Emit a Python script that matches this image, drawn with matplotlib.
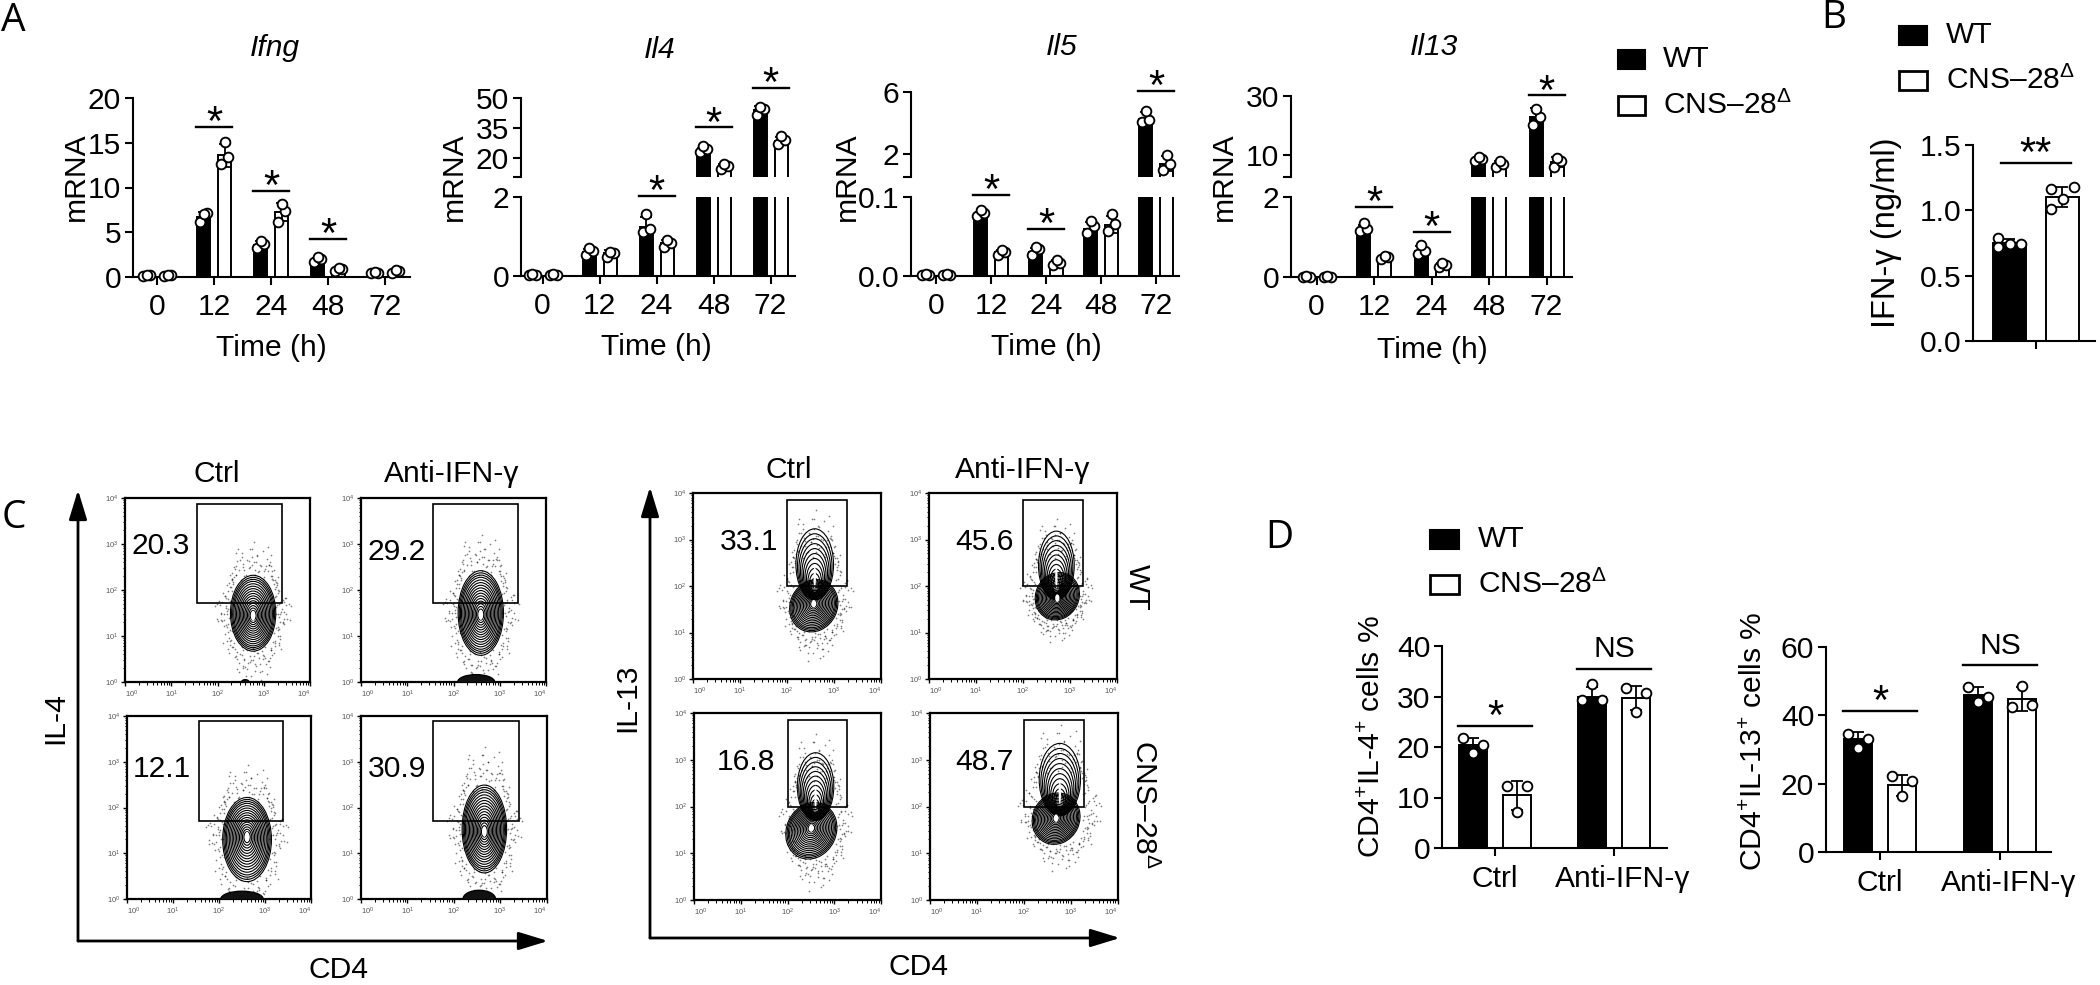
import numpy as np
import matplotlib
matplotlib.use("Agg")
import matplotlib.pyplot as plt
from matplotlib.patches import Ellipse, FancyArrowPatch, Rectangle
from matplotlib.ticker import FixedLocator, NullFormatter
from matplotlib.transforms import ScaledTranslation

plt.rcParams['font.family'] = ['Liberation Sans', 'DejaVu Sans']
plt.rcParams['mathtext.fontset'] = 'custom'
plt.rcParams['mathtext.rm'] = 'Liberation Sans'
plt.rcParams['mathtext.it'] = 'Liberation Sans:italic'
plt.rcParams['mathtext.default'] = 'regular'

W, H = 2100, 985
FS = 21.6
CNS_LABEL = 'CNS\u201328$^{\\Delta}$'

# Panel A
times = ['0', '12', '24', '48', '72']

ifng_wt = [0.2, 6.7, 3.6, 1.9, 0.5]
ifng_cns = [0.2, 13.6, 7.3, 0.9, 0.65]
ifng_wt_pts = [[0.1, 0.2, 0.2], [6.1, 7.2, 7.0], [3.2, 3.7, 4.0], [1.7, 2.0, 2.2], [0.4, 0.5, 0.6]]
ifng_cns_pts = [[0.1, 0.2, 0.2], [12.6, 13.4, 15.1], [6.2, 7.4, 8.2], [0.7, 0.9, 1.0], [0.5, 0.7, 0.75]]
ifng_sig = [(1, 16.8, 0), (2, 9.6, 0), (3, 4.25, 0)]

il4_wt = [0.03, 0.6, 1.25, 23.5, 44]
il4_cns = [0.03, 0.58, 0.83, 15.7, 28.5]
il4_wt_pts = [[0.02, 0.03, 0.04], [0.53, 0.63, 0.7], [1.12, 1.18, 1.58], [22.8, 24.5, 25.8], [41.6, 44.7, 45.5]]
il4_cns_pts = [[0.02, 0.03, 0.04], [0.47, 0.57, 0.61], [0.73, 0.84, 0.9], [14.5, 15.8, 17], [27, 29, 31]]
il4_sig = [(2, 2.03, 0), (3, 35.4, 1), (4, 55, 1)]

il5_wt = [0.001, 0.078, 0.03, 0.06, 4.3]
il5_cns = [0.001, 0.03, 0.017, 0.065, 1.4]
il5_wt_pts = [[0.001, 0.001, 0.002], [0.076, 0.08, 0.083], [0.027, 0.034, 0.037], [0.054, 0.063, 0.07], [4.07, 4.2, 4.8]]
il5_cns_pts = [[0.001, 0.001, 0.002], [0.027, 0.03, 0.033], [0.014, 0.017, 0.02], [0.057, 0.066, 0.079], [0.97, 1.4, 1.94]]
il5_sig = [(1, 0.103, 0), (2, 0.06, 0), (4, 6.06, 1)]

il13_wt = [0.01, 1.2, 0.65, 8.5, 23]
il13_cns = [0.01, 0.48, 0.3, 6.9, 7.5]
il13_wt_pts = [[0.0, 0.01, 0.02], [1.14, 1.21, 1.34], [0.57, 0.64, 0.8], [7.7, 8.5, 9.2], [20, 22.8, 25.7]]
il13_cns_pts = [[0.0, 0.01, 0.02], [0.45, 0.49, 0.53], [0.24, 0.3, 0.35], [5.7, 6.8, 7.7], [5.7, 8, 9]]
il13_sig = [(1, 1.76, 0), (2, 1.13, 0), (4, 30.2, 1)]

# Panel B
ifn_wt = [0.75]
ifn_cns = [1.1]
ifn_wt_pts = [[0.79, 0.72, 0.74, 0.74]]
ifn_cns_pts = [[1.16, 1.01, 1.09, 1.18]]

# Panel D
treatments = ['Ctrl', 'Anti-IFN-\u03b3']
il4_pct_wt = [20.3, 30]
il4_pct_cns = [10.4, 29.7]
il4_pct_wt_pts = [[21.7, 20.4, 18.75], [29.3, 29.3, 32.4]]
il4_pct_cns_pts = [[12.2, 12.2, 7.2], [31.6, 30.7, 27]]
il13_pct_wt = [33, 46]
il13_pct_cns = [19.5, 44.7]
il13_pct_wt_pts = [[34.5, 33, 30.4], [48.4, 45.4, 43.9]]
il13_pct_cns_pts = [[22.2, 20.7, 16.3], [42.4, 42.9, 48.7]]

# Panel C, all positions in decades of the flow axes
il4_freq = ['20.3', '29.2', '12.1', '30.9']
il13_freq = ['33.1', '45.6', '16.8', '48.7']
# core x, core y, half width, top, bottom
il4_contours = [(2.77, 1.44, 0.49, 2.32, 0.67), (2.59, 1.46, 0.49, 2.42, 0.58),
                (2.61, 1.36, 0.53, 2.22, 0.38), (2.66, 1.47, 0.48, 2.49, 0.57)]
# centre x, half width, top
il4_blobs = [(2.6, 0.08, 0.05), (2.49, 0.40, 0.16), (2.5, 0.46, 0.17), (2.55, 0.35, 0.19)]
il13_blobs_low = [(2.57, 1.62, 0.50, 2.15, 1.0), (2.73, 1.74, 0.46, 2.3, 1.26),
                  (2.51, 1.54, 0.53, 2.1, 0.86), (2.69, 1.75, 0.50, 2.3, 1.18)]
il13_tails = [(2.59, 1.9, 0.40, 3.23), (2.71, 1.9, 0.38, 3.18),
              (2.6, 1.9, 0.39, 3.15), (2.77, 2.0, 0.44, 3.35)]
il4_gate = (1.56, 3.40, 1.71, 3.88)
il13_gate = (2.0, 3.28, 2.0, 3.84)
ring_scales = [1, .95, .90, .85, .79, .73, .67, .61, .55, .49, .43, .37, .31, .25, .19, .13]
tail_scales = [1, .92, .84, .76, .68, .60, .52, .44, .36, .28, .20]
# speckle around a population, in units of its outline
speckle = [(1.15, 0.3), (-1.2, 0.2), (1.3, -0.2), (-1.3, -0.3), (0.9, 1.12), (-0.8, 1.15), (0.3, 1.25),
           (-0.2, 1.35), (0.6, 1.4), (-0.5, 1.45), (1.05, 0.75), (-1.05, 0.8), (1.2, -0.65), (-1.15, -0.7),
           (0.85, -1.1), (-0.75, -1.15), (0.25, -1.2), (-0.15, -1.3), (0.55, -1.35), (-0.45, -1.42),
           (0.1, -1.55), (-0.3, -1.7), (0.35, -1.8), (1.35, 0.1), (-1.4, 0.05), (1.45, 0.45), (-1.35, 0.55),
           (1.1, 0.95), (-1.0, 1.0), (0.15, 1.5), (-0.05, 1.65), (1.25, -0.95), (-1.1, -0.95), (0.7, 1.25),
           (1.08, 0.05), (-1.08, -0.05), (1.12, 0.55), (-1.12, 0.42), (1.1, -0.4), (-1.1, -0.45),
           (0.98, 0.88), (-0.95, 0.9), (0.95, -0.85), (-0.92, -0.88), (0.5, 1.1), (-0.42, 1.12),
           (0.45, -1.12), (-0.5, -1.1), (0.08, 1.14), (0.02, -1.14), (1.5, -0.1), (-1.55, -0.15),
           (0.75, -1.45), (-0.7, -1.5), (0.8, 1.5), (-0.75, 1.55), (1.6, 0.3), (-1.6, 0.3)]


def axes_px(left, top, right, bottom):
    ax = fig.add_axes([left / W, 1 - bottom / H, (right - left) / W, (bottom - top) / H])
    ax.patch.set_alpha(0)
    return ax


def style_axes(ax, xlim):
    ax.set_xlim(*xlim)
    for side in ['top', 'right']:
        ax.spines[side].set_visible(False)
    for side in ['left', 'bottom']:
        ax.spines[side].set_linewidth(1.5)
    ax.tick_params(width=1.5, length=5.5, labelsize=FS, pad=3)
    ax.tick_params(axis='x', pad=6)


def draw_bars(axs, wt, cns, wt_pts, cns_pts, off, width, jit):
    # each axes draws what falls inside its own y range
    for ax in axs:
        low, high = ax.get_ylim()
        for vals, pts, sign, face in [(wt, wt_pts, -1, 'black'), (cns, cns_pts, 1, 'white')]:
            x = np.arange(len(vals)) + sign * off
            ax.bar(x, vals, width=width, color=face, edgecolor='black', linewidth=1.4, zorder=2)
            for xi, v, p in zip(x, vals, pts):
                if len(axs) > 1 and not (low <= v <= high):
                    continue
                err = np.std(p, ddof=1)
                ax.errorbar(xi, v, yerr=err, color='black', capsize=4, lw=1.3, capthick=1.3,
                            zorder=3, clip_on=False)
                ax.plot(xi + np.array(jit), p, 'o', ms=7, mfc='white', mec='black', mew=1.35,
                        zorder=4, clip_on=False)


def draw_sig(axs, sig, half, text='*', gap=-6):
    for i, y, which in sig:
        ax = axs[which]
        ax.plot([i - half, i + half], [y, y], color='black', lw=1.7, clip_on=False, zorder=5)
        ax.annotate(text, xy=(i, y), xytext=(0, gap), textcoords='offset points', ha='center',
                    va='baseline', fontsize=30, annotation_clip=False)


def mrna_panel(left, right, x0, pitch, lims, pixels, ticks, labels, wt, cns, wt_pts, cns_pts, sig):
    xlim = ((left - x0) / pitch, (right - x0) / pitch)
    if len(lims) == 1:
        ax = axes_px(left, pixels[0], right, pixels[1])
        ax.set_ylim(*lims[0])
        axs = [ax]
    else:
        low = axes_px(left, pixels[2], right, pixels[3])
        up = axes_px(left, pixels[0], right, pixels[1])
        low.set_ylim(*lims[0])
        up.set_ylim(*lims[1])
        axs = [low, up]
    for k, ax in enumerate(axs):
        style_axes(ax, xlim)
        ax.set_yticks(ticks[k])
        ax.set_yticklabels(labels[k])
    axs[0].set_xticks(range(5))
    axs[0].set_xticklabels(times)
    if len(axs) > 1:
        axs[1].spines['bottom'].set_visible(False)
        axs[1].set_xticks([])
    draw_bars(axs, wt, cns, wt_pts, cns_pts, 10.5 / pitch, 13 / pitch, [-3.5 / pitch, 3.5 / pitch, 0])
    draw_sig(axs, sig, 18 / pitch)


def pct_panel(left, right, x0, pitch, top, bottom, ymax, ticks, wt, cns, wt_pts, cns_pts, star_y, ns_y):
    ax = axes_px(left, top, right, bottom)
    ax.set_ylim(0, ymax)
    style_axes(ax, ((left - x0) / pitch, (right - x0) / pitch))
    ax.set_yticks(ticks)
    ax.set_xticks(range(2))
    ax.set_xticklabels(treatments)
    ax.tick_params(axis='x', pad=7)
    # the treatment labels sit a little right of their ticks
    anti = ax.get_xticklabels()[1]
    anti.set_transform(anti.get_transform() + ScaledTranslation(0.09, 0, fig.dpi_scale_trans))
    draw_bars([ax], wt, cns, wt_pts, cns_pts, 22 / pitch, 28.5 / pitch, [-10 / pitch, 10 / pitch, 0])
    draw_sig([ax], [(0, star_y, 0)], 37 / pitch, gap=-2)
    ax.plot([1 - 37 / pitch, 1 + 37 / pitch], [ns_y, ns_y], color='black', lw=1.7, clip_on=False)
    ax.annotate('NS', xy=(1, ns_y), xytext=(0, 14), textcoords='offset points', ha='center',
                va='center', fontsize=FS, annotation_clip=False)


def flow_panel(box, gate, freq_xy, freq):
    ax = axes_px(*box)
    ax.set_xlim(0, 4)
    ax.set_ylim(0, 4)
    minor = [d + np.log10(m) for d in range(4) for m in range(2, 10)]
    for axis in [ax.xaxis, ax.yaxis]:
        axis.set_major_locator(FixedLocator(range(5)))
        axis.set_minor_locator(FixedLocator(minor))
        axis.set_minor_formatter(NullFormatter())
    ax.set_xticklabels(['$10^{%d}$' % d for d in range(5)])
    ax.set_yticklabels(['$10^{%d}$' % d for d in range(5)])
    ax.tick_params(which='major', length=3, width=1, labelsize=5.5, labelcolor='#555555', pad=2)
    ax.tick_params(which='minor', length=1.8, width=0.7)
    for side in ax.spines.values():
        side.set_linewidth(1.6)
    tl = ax.get_xticklabels()
    tl[0].set_ha('left')
    tl[-1].set_ha('right')
    ax.add_patch(Rectangle((gate[0], gate[2]), gate[1] - gate[0], gate[3] - gate[2], fill=False,
                           edgecolor='black', lw=1.2, zorder=6))
    ov.text(*freq_xy, freq, ha='center', va='center', fontsize=FS, zorder=8)
    return ax


def contour_family(ax, cx, core, half, top, bottom, angle=0, lw=0.8, scales=ring_scales):
    for s in scales:
        y0 = core - (core - bottom) * s
        y1 = core + (top - core) * s
        ax.add_patch(Ellipse((cx, (y0 + y1) / 2), 2 * half * s, y1 - y0, angle=angle, fill=False,
                             edgecolor='black', lw=lw, zorder=3))


def specks(ax, cx, core, half, top, bottom):
    sx = []
    sy = []
    for dx, dy in speckle:
        for mx, my in [(1, 1), (-0.85, 1.1), (0.92, 0.88), (-1.05, 0.8)]:
            sx.append(cx + dx * mx * half)
            sy.append(core + dy * my * ((top - core) if dy * my > 0 else (core - bottom)))
    ax.scatter(sx, sy, s=1.5, color='black', alpha=0.5, linewidths=0, zorder=2)


def legend(x_box, y_wt, y_cns, size, x_text):
    ov.add_patch(Rectangle((x_box, y_wt - size[1] / 2), size[0], size[1], facecolor='black', edgecolor='black', lw=1.5))
    ov.add_patch(Rectangle((x_box, y_cns - size[1] / 2), size[0], size[1], facecolor='white', edgecolor='black', lw=2))
    ov.text(x_text, y_wt, 'WT', va='center', fontsize=FS)
    ov.text(x_text, y_cns, CNS_LABEL, va='center', fontsize=FS)


def arrow(x0, y0, x1, y1):
    ov.add_patch(FancyArrowPatch((x0, y0), (x1, y1), arrowstyle='-|>,head_length=18,head_width=5.5',
                                 mutation_scale=1, color='black', lw=2, shrinkA=0, shrinkB=0))


fig = plt.figure(figsize=(W / 100, H / 100), dpi=100)
ov = fig.add_axes([0, 0, 1, 1], zorder=10)
ov.set_xlim(0, W)
ov.set_ylim(H, 0)
ov.axis('off')
ov.patch.set_alpha(0)

mrna_panel(133, 410, 157, 57, [(0, 20)], (98, 277), [[0, 5, 10, 15, 20]], [['0', '5', '10', '15', '20']],
           ifng_wt, ifng_cns, ifng_wt_pts, ifng_cns_pts, ifng_sig)
mrna_panel(521, 795, 542.5, 57, [(0, 2), (10.5, 50)], (98, 177, 197, 276),
           [[0, 2], [10.5, 20, 35, 50]], [['0', '2'], ['', '20', '35', '50']],
           il4_wt, il4_cns, il4_wt_pts, il4_cns_pts, il4_sig)
mrna_panel(911, 1179, 936, 55, [(0, 0.1), (0.55, 6)], (92, 177, 197, 276),
           [[0, 0.1], [0.55, 2, 6]], [['0.0', '0.1'], ['', '2', '6']],
           il5_wt, il5_cns, il5_wt_pts, il5_cns_pts, il5_sig)
mrna_panel(1291, 1572, 1316.5, 57.5, [(0, 2), (2.4, 30)], (96, 177, 197, 277),
           [[0, 2], [2.4, 10, 30]], [['0', '2'], ['', '10', '30']],
           il13_wt, il13_cns, il13_wt_pts, il13_cns_pts, il13_sig)

for x, y, s in [(275, 48, 'Ifng'), (660, 50, 'Il4'), (1062, 47, 'Il5'), (1434, 47, 'Il13')]:
    ov.text(x, y, s, ha='center', va='center', fontsize=FS, style='italic')
for x in [76, 454, 847, 1224]:
    ov.text(x, 177, 'mRNA', ha='center', va='center', fontsize=FS, rotation=90)
for x, y in [(271, 348), (656, 347), (1046, 347), (1432, 350)]:
    ov.text(x, y, 'Time (h)', ha='center', va='center', fontsize=FS)
legend(1618, 59, 105, (27, 19), 1663)

# Panel B
ax_b = axes_px(1973, 145, 2095, 341)
ax_b.set_ylim(0, 1.5)
style_axes(ax_b, ((1973 - 2035.5) / 53, (2095 - 2035.5) / 53))
ax_b.set_yticks([0, 0.5, 1.0, 1.5])
ax_b.set_yticklabels(['0.0', '0.5', '1.0', '1.5'])
ax_b.set_xticks([0])
ax_b.set_xticklabels([''])
draw_bars([ax_b], ifn_wt, ifn_cns, ifn_wt_pts, ifn_cns_pts, 0.5, 33 / 53, [-11 / 53, -11 / 53, 1 / 53, 12 / 53])
draw_sig([ax_b], [(0, 1.36, 0)], 35 / 53, text='**', gap=-2)
ov.text(1887, 233, 'IFN-\u03b3 (ng/ml)', ha='center', va='center', fontsize=23.5, rotation=90)
legend(1899, 35, 80, (28, 19), 1946)

# Panel C
il4_boxes = [(125, 498, 310, 682), (361, 498, 546, 682), (127, 716, 311, 899), (361, 716, 546.5, 899)]
il4_freq_xy = [(161, 546), (397, 552), (162, 769), (397, 769)]
for box, xy, f, c, b in zip(il4_boxes, il4_freq_xy, il4_freq, il4_contours, il4_blobs):
    ax = flow_panel(box, il4_gate, xy, f)
    specks(ax, *c[:5])
    contour_family(ax, *c)
    ax.add_patch(Ellipse((c[0], c[1]), 0.09, 0.22, facecolor='white', edgecolor='none', zorder=4))
    ax.add_patch(Ellipse((b[0], 0), 2 * b[1], 2 * b[2], facecolor='#111111', edgecolor='black', lw=1, zorder=3))

il13_boxes = [(693, 493, 881, 679), (929, 493, 1117, 679), (694, 713, 881, 900), (930, 713, 1117.5, 900)]
il13_freq_xy = [(749, 542), (984, 542), (746, 762), (984, 762)]
for box, xy, f, c, t in zip(il13_boxes, il13_freq_xy, il13_freq, il13_blobs_low, il13_tails):
    ax = flow_panel(box, il13_gate, xy, f)
    specks(ax, t[0], c[1], t[2] * 1.2, t[3] - 0.5, c[4])
    contour_family(ax, t[0], t[1], t[2], t[3], t[1] - 0.2, scales=tail_scales)
    contour_family(ax, *c, angle=-25)
    ax.add_patch(Ellipse((t[0], t[1] + 0.3), 0.05, 0.5, facecolor='white', edgecolor='none', zorder=4))
    ax.add_patch(Ellipse((c[0], c[1]), 0.09, 0.16, facecolor='white', edgecolor='none', zorder=4))

for x, y, s in [(217, 474, 'Ctrl'), (452, 474, 'Anti-IFN-\u03b3'), (789, 470, 'Ctrl'), (1023, 470, 'Anti-IFN-\u03b3')]:
    ov.text(x, y, s, ha='center', va='center', fontsize=FS)
ov.text(55, 718, 'IL-4', ha='center', va='center', fontsize=FS, rotation=90)
ov.text(627, 698, 'IL-13', ha='center', va='center', fontsize=FS, rotation=90)
ov.text(338, 970, 'CD4', ha='center', va='center', fontsize=FS)
ov.text(918, 967, 'CD4', ha='center', va='center', fontsize=FS)
ov.text(1137, 587, 'WT', ha='center', va='center', fontsize=FS, rotation=-90)
ov.text(1144, 805, CNS_LABEL, ha='center', va='center', fontsize=FS, rotation=-90)
arrow(78, 941, 78, 490)
arrow(78, 941, 548, 941)
arrow(650, 938, 650, 487)
arrow(650, 938, 1120, 938)

# Panel D
pct_panel(1442, 1667, 1495, 119, 646, 848, 40, [0, 10, 20, 30, 40], il4_pct_wt, il4_pct_cns,
          il4_pct_wt_pts, il4_pct_cns_pts, 24.1, 35.5)
pct_panel(1826, 2051, 1880, 120, 647, 852, 60, [0, 20, 40, 60], il13_pct_wt, il13_pct_cns,
          il13_pct_wt_pts, il13_pct_cns_pts, 41.2, 54.6)
ov.text(1372, 737, 'CD4$^{+}$IL-4$^{+}$ cells %', ha='center', va='center', fontsize=FS, rotation=90)
ov.text(1754, 741, 'CD4$^{+}$IL-13$^{+}$ cells %', ha='center', va='center', fontsize=FS, rotation=90)
legend(1430, 539, 584, (29, 19), 1478)

# panel letters
for x, y, s in [(13, 21, 'A'), (1834, 18, 'B'), (14, 518, 'C'), (1279, 538, 'D')]:
    ov.text(x, y, s, ha='center', va='center', fontsize=28, family='Open Sans')

fig.savefig('out.png', dpi=100)
